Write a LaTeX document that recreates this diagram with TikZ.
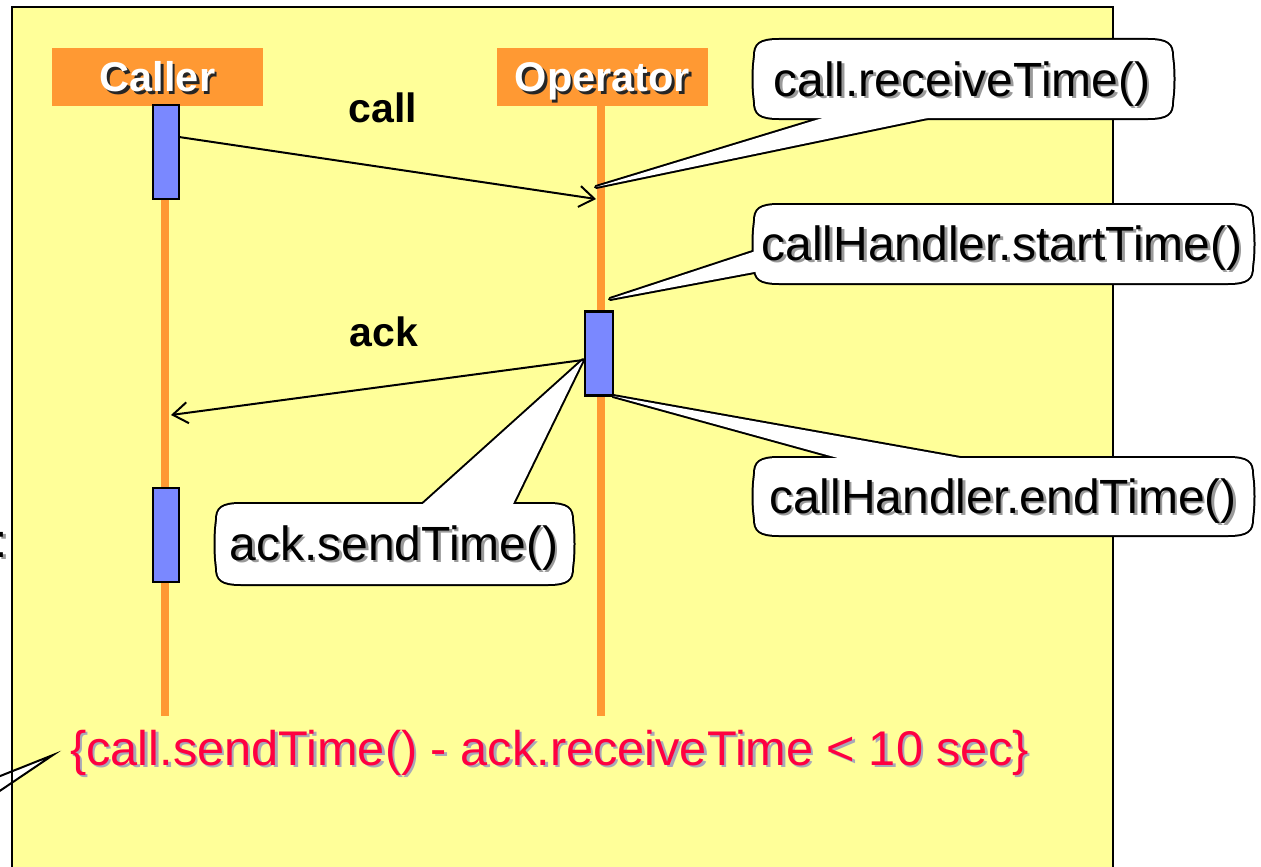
\documentclass[tikz,border=0pt]{standalone}
\usepackage{fontspec}
\setmainfont{Liberation Sans}
\usetikzlibrary{arrows.meta,calc}
\definecolor{panelc}{HTML}{FFFF99}
\definecolor{hdrc}{HTML}{FF9933}
\definecolor{barc}{HTML}{7A88FF}
\definecolor{redc}{HTML}{FF0040}
\definecolor{shdc}{HTML}{9A9A9A}
\definecolor{shdr}{HTML}{A8A8B8}
\newcommand\shtext[2]{\makebox[0pt][l]{\hspace{2.5pt}\raisebox{-2.5pt}{\color{#1}#2}}#2}
\begin{document}
\begin{tikzpicture}[x=1pt,y=-1pt,
  cbox/.style n args={4}{insert path={(#1+24,#2) -- (#3-24,#2)
     .. controls (#3-4,#2) and (#3,#2+5) .. (#3,#2+16)
     .. controls (#3+2,#2+30) and (#3+2,#4-30) .. (#3,#4-16)
     .. controls (#3,#4-5) and (#3-4,#4) .. (#3-24,#4) -- (#1+24,#4)
     .. controls (#1+4,#4) and (#1,#4-5) .. (#1,#4-16)
     .. controls (#1-2,#4-30) and (#1-2,#2+30) .. (#1,#2+16)
     .. controls (#1,#2+5) and (#1+4,#2) .. (#1+24,#2) -- cycle}},
  cstroke/.style={draw=black, line width=4pt, line join=round},
  cfill/.style={fill=white},
  ctext/.style={font=\fontsize{48}{50}\selectfont, inner sep=0pt, anchor=base},
  hdrbox/.style={fill=hdrc, text=white, font=\fontsize{41.5}{44}\bfseries\selectfont,
     minimum width=211pt, minimum height=58pt, inner sep=0pt, text height=30pt, text depth=0pt, anchor=base},
  barbox/.style={draw=black, fill=barc, line width=2.2pt, inner sep=0pt},
  life/.style={draw=hdrc, line width=8pt},
  msg/.style={draw=black, line width=2pt, -{Straight Barb[length=15pt,width=21pt]}},
  lbl/.style={font=\fontsize{41}{44}\bfseries\selectfont, inner sep=0pt, anchor=base}]
\useasboundingbox (0,0) rectangle (1261,867);
% panel
\fill[panelc] (12,7) rectangle (1113,900);
% bottom-left callout pointer (callout off picture)
\coordinate (blt) at (53,755);
\draw[fill=white, line width=2pt] (blt) -- (-30,788) -- (-30,811) -- cycle;
\draw[line width=2.5pt] (12,900) -- (12,7) -- (1113,7) -- (1113,900);
% colon at left edge
\node[anchor=base east, inner sep=0pt, font=\fontsize{47.5}{50}\selectfont] (colon) at (8,557) {\shtext{shdc}{:}};
% lifelines
\coordinate (cl0) at (165,106); \coordinate (cl1) at (165,716);
\coordinate (ol0) at (601,106); \coordinate (ol1) at (601,716);
\draw[life] (cl0) -- (cl1);
\draw[life] (ol0) -- (ol1);
% headers
\node[hdrbox] (hcaller) at (157.5,92) {\shtext{black!85}{Caller}};
\node[hdrbox] (hoper) at (602.5,92) {\shtext{black!85}{Operator}};
% activation bars
\node[barbox, minimum width=26pt, minimum height=94pt] (b1) at (166,152) {};
\node[barbox, minimum width=26pt, minimum height=94pt] (b2) at (166,535) {};
\node[barbox, minimum width=28pt, minimum height=84pt] (b3) at (599,353.5) {};
% labels
\node[lbl] (lcall) at (383,122) {call};
\node[lbl] (lack) at (384,346) {ack};
% callout 1
\coordinate (p1) at (596,187);
\path[cstroke, cbox={755}{40}{1172}{118}];
\draw[cstroke] (p1) -- (849,110) -- (966,110) -- cycle;
\path[cfill, cbox={755}{40}{1172}{118}];
\fill[white] (p1) -- (849,110) -- (966,110) -- cycle;
\node[ctext] (t1) at (962,96) {\shtext{shdc}{call.receiveTime()}};
% callout 2
\coordinate (p2) at (610,299);
\path[cstroke, cbox={755}{205}{1252}{283}];
\draw[cstroke] (p2) -- (765,248) -- (765,270) -- cycle;
\path[cfill, cbox={755}{205}{1252}{283}];
\fill[white] (p2) -- (765,248) -- (765,270) -- cycle;
\node[ctext] (t2) at (1002,260) {\shtext{shdc}{callHandler.startTime()}};
% callout 3
\coordinate (p3) at (613,396);
\path[cstroke, cbox={755}{458}{1252}{535}];
\draw[cstroke] (p3) -- (867,466) -- (1005,466) -- cycle;
\path[cfill, cbox={755}{458}{1252}{535}];
\fill[white] (p3) -- (867,466) -- (1005,466) -- cycle;
\node[ctext] (t3) at (1003,513) {\shtext{shdc}{callHandler.endTime()}};
% callout 4
\coordinate (p4) at (583,360);
\path[cstroke, cbox={217}{504}{572}{584}];
\draw[cstroke] (p4) -- (414,512) -- (509,512) -- cycle;
\path[cfill, cbox={217}{504}{572}{584}];
\fill[white] (p4) -- (414,512) -- (509,512) -- cycle;
\node[ctext] (t4) at (394,560) {\shtext{shdc}{ack.sendTime()}};
% messages
\coordinate (cs) at (179,137); \coordinate (ce) at (596,199);
\draw[msg] (cs) -- (ce);
\coordinate (ae) at (171,415);
\draw[msg] (p4) -- (ae);
% constraint
\node[anchor=base west, inner sep=0pt, text=redc, font=\fontsize{48.7}{52}\selectfont] (cons) at (70,765)
  {\shtext{shdr}{\{call.sendTime() - ack.receiveTime < 10 sec\}}};
\end{tikzpicture}
\end{document}
